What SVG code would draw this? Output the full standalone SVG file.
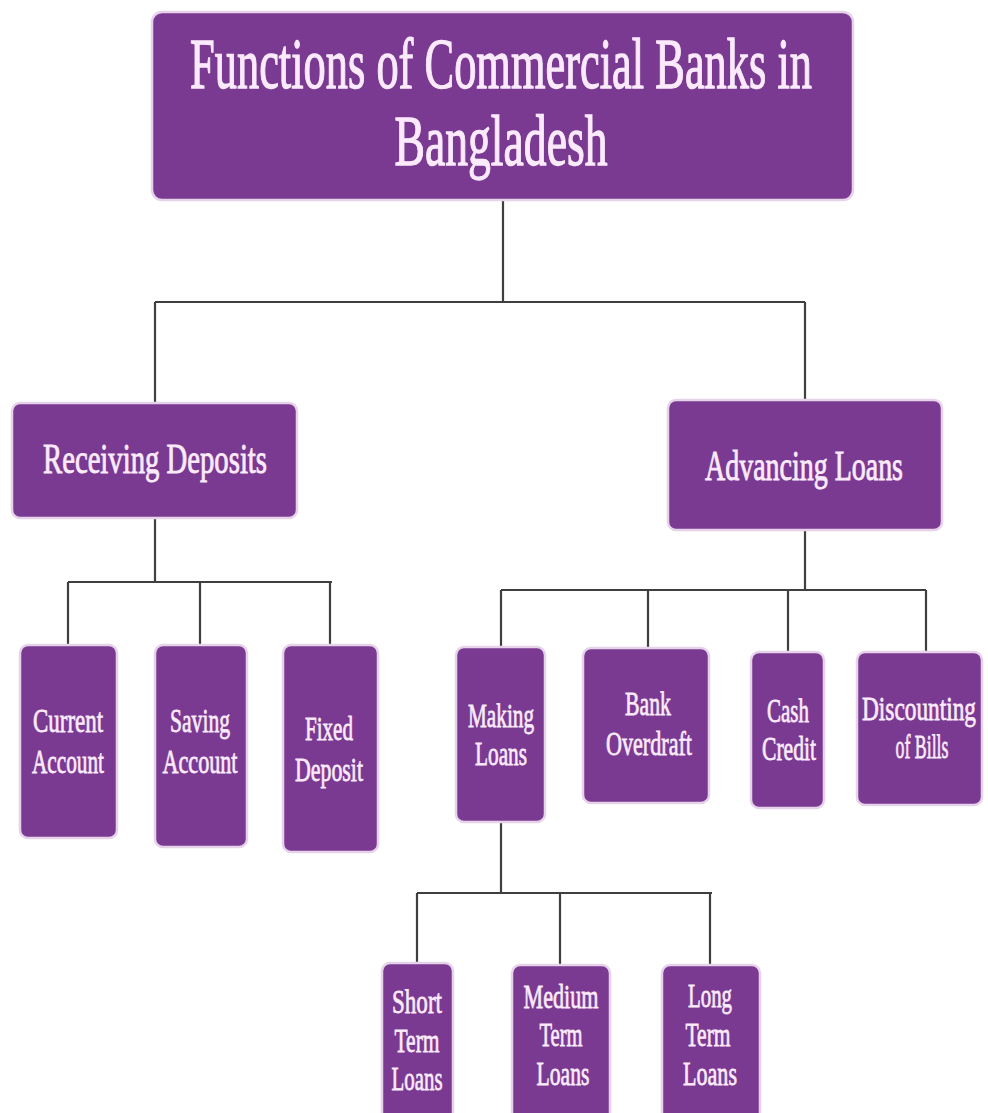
<svg xmlns="http://www.w3.org/2000/svg" width="988" height="1113" viewBox="0 0 988 1113">
<style>
.box{fill:#7a3a92;stroke:#e6d3ea;stroke-width:2.5}
.t{font-family:"Liberation Serif","DejaVu Serif",serif;fill:#fbeafb;stroke:#fbeafb;stroke-width:0.5;text-anchor:middle}
.big{font-size:44.4px;stroke-width:0.8}
.mid{font-size:28.3px;stroke-width:0.6}
.sm{font-size:22.5px}
.c{fill:none;stroke:#3f3f3f;stroke-width:2.2}
</style>
<rect width="988" height="1113" fill="#ffffff"/>
<g id="connectors">
<path class="c" d="M503,200 V302 M155,302 H805 M155,302 V403 M805,302 V400"/>
<path class="c" d="M155,518 V582 M68,582 H332 M68,582 V645 M200,582 V645 M330,582 V645"/>
<path class="c" d="M805,530 V590 M501,590 H926 M501,590 V647 M648,590 V648 M788,590 V652 M926,590 V652"/>
<path class="c" d="M501,822 V893 M417,893 H712 M417,893 V963 M560,893 V965 M710,893 V965"/>
</g>
<g id="title">
<rect class="box" x="152" y="12" width="701" height="188" rx="10"/>
<text class="t big" transform="translate(501,88) scale(1,1.62)" textLength="622" lengthAdjust="spacingAndGlyphs">Functions of Commercial Banks in</text>
<text class="t big" transform="translate(501,165) scale(1,1.62)" textLength="213" lengthAdjust="spacingAndGlyphs">Bangladesh</text>
</g>
<g id="receiving">
<rect class="box" x="12" y="403" width="285" height="115" rx="8"/>
<text class="t mid" transform="translate(155,473) scale(1,1.5)" textLength="224" lengthAdjust="spacingAndGlyphs">Receiving Deposits</text>
</g>
<g id="advancing">
<rect class="box" x="668" y="400" width="274" height="130" rx="8"/>
<text class="t mid" transform="translate(804,480) scale(1,1.5)" textLength="198" lengthAdjust="spacingAndGlyphs">Advancing Loans</text>
</g>
<g id="current">
<rect class="box" x="20" y="645" width="97" height="193" rx="8"/>
<text class="t sm" transform="translate(68,732) scale(1,1.5)" textLength="70" lengthAdjust="spacingAndGlyphs">Current</text>
<text class="t sm" transform="translate(68,773) scale(1,1.5)" textLength="72" lengthAdjust="spacingAndGlyphs">Account</text>
</g>
<g id="saving">
<rect class="box" x="155" y="645" width="92" height="202" rx="8"/>
<text class="t sm" transform="translate(200,732) scale(1,1.5)" textLength="60" lengthAdjust="spacingAndGlyphs">Saving</text>
<text class="t sm" transform="translate(200,773) scale(1,1.5)" textLength="75" lengthAdjust="spacingAndGlyphs">Account</text>
</g>
<g id="fixed">
<rect class="box" x="283" y="645" width="95" height="207" rx="8"/>
<text class="t sm" transform="translate(329,740) scale(1,1.5)" textLength="48" lengthAdjust="spacingAndGlyphs">Fixed</text>
<text class="t sm" transform="translate(329,781) scale(1,1.5)" textLength="68" lengthAdjust="spacingAndGlyphs">Deposit</text>
</g>
<g id="making">
<rect class="box" x="456" y="647" width="89" height="175" rx="8"/>
<text class="t sm" transform="translate(501,727) scale(1,1.5)" textLength="66" lengthAdjust="spacingAndGlyphs">Making</text>
<text class="t sm" transform="translate(501,765) scale(1,1.5)" textLength="52" lengthAdjust="spacingAndGlyphs">Loans</text>
</g>
<g id="overdraft">
<rect class="box" x="583" y="648" width="126" height="155" rx="8"/>
<text class="t sm" transform="translate(648,715) scale(1,1.5)" textLength="46" lengthAdjust="spacingAndGlyphs">Bank</text>
<text class="t sm" transform="translate(649,755) scale(1,1.5)" textLength="86" lengthAdjust="spacingAndGlyphs">Overdraft</text>
</g>
<g id="cash">
<rect class="box" x="751" y="652" width="73" height="156" rx="8"/>
<text class="t sm" transform="translate(788,722) scale(1,1.5)" textLength="42" lengthAdjust="spacingAndGlyphs">Cash</text>
<text class="t sm" transform="translate(789,760) scale(1,1.5)" textLength="54" lengthAdjust="spacingAndGlyphs">Credit</text>
</g>
<g id="discounting">
<rect class="box" x="857" y="652" width="125" height="153" rx="8"/>
<text class="t sm" transform="translate(919,720) scale(1,1.5)" textLength="114" lengthAdjust="spacingAndGlyphs">Discounting</text>
<text class="t sm" transform="translate(922,758) scale(1,1.5)" textLength="53" lengthAdjust="spacingAndGlyphs">of Bills</text>
</g>
<g id="short">
<rect class="box" x="382" y="963" width="71" height="160" rx="8"/>
<text class="t sm" transform="translate(417,1013) scale(1,1.5)" textLength="50" lengthAdjust="spacingAndGlyphs">Short</text>
<text class="t sm" transform="translate(417,1052) scale(1,1.5)" textLength="45" lengthAdjust="spacingAndGlyphs">Term</text>
<text class="t sm" transform="translate(417,1090) scale(1,1.5)" textLength="51" lengthAdjust="spacingAndGlyphs">Loans</text>
</g>
<g id="medium">
<rect class="box" x="512" y="965" width="98" height="158" rx="8"/>
<text class="t sm" transform="translate(561,1008) scale(1,1.5)" textLength="75" lengthAdjust="spacingAndGlyphs">Medium</text>
<text class="t sm" transform="translate(561,1046) scale(1,1.5)" textLength="43" lengthAdjust="spacingAndGlyphs">Term</text>
<text class="t sm" transform="translate(563,1085) scale(1,1.5)" textLength="53" lengthAdjust="spacingAndGlyphs">Loans</text>
</g>
<g id="long">
<rect class="box" x="662" y="965" width="98" height="158" rx="8"/>
<text class="t sm" transform="translate(710,1007) scale(1,1.5)" textLength="44" lengthAdjust="spacingAndGlyphs">Long</text>
<text class="t sm" transform="translate(708,1046) scale(1,1.5)" textLength="45" lengthAdjust="spacingAndGlyphs">Term</text>
<text class="t sm" transform="translate(710,1085) scale(1,1.5)" textLength="54" lengthAdjust="spacingAndGlyphs">Loans</text>
</g>
</svg>
